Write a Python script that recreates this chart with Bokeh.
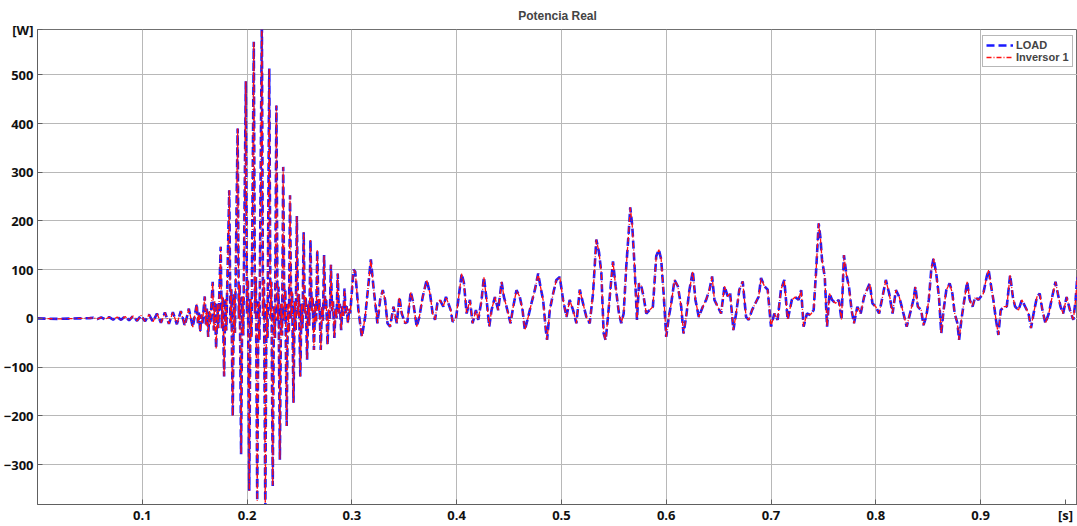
from bokeh.plotting import figure
from bokeh.models import FixedTicker, Range1d
from bokeh.embed import file_html
from bokeh.resources import INLINE

# ---- data (time [s], power [W]) ----
t_ramp = [0.0, 0.01, 0.02, 0.03, 0.04, 0.05,
          0.0532, 0.0570, 0.0608, 0.0646, 0.0684, 0.0722, 0.0760, 0.0798, 0.0836, 0.0874,
          0.0912, 0.0950, 0.0988, 0.1026, 0.1064, 0.1102, 0.1140, 0.1178, 0.1216, 0.1254,
          0.1292, 0.1330, 0.1368, 0.1406, 0.1444, 0.1482]
p_ramp = [0, -0.5, -1, -0.5, 0, 0.5,
          1.5, -1.5, 2, -2, 2.5, -2.5, 3, -3, 4, -4,
          5, -5, 6, -6, 8, -7, 10, -9, 12, -11,
          13, -12, 15, -15, 20, -18]

t_burst = [
    0.1520, 0.1531, 0.1540, 0.1553, 0.1564, 0.1574,
    0.1596, 0.1607, 0.1616, 0.1629, 0.1640, 0.1650,
    0.1672, 0.1683, 0.1692, 0.1705, 0.1716, 0.1726,
    0.1748, 0.1759, 0.1768, 0.1781, 0.1792, 0.1802,
    0.1830, 0.1841, 0.1850, 0.1863, 0.1874, 0.1884,
    0.1910, 0.1921, 0.1930, 0.1943, 0.1954, 0.1964,
    0.1988, 0.1999, 0.2008, 0.2021, 0.2032, 0.2042,
    0.2064, 0.2075, 0.2084, 0.2097, 0.2108, 0.2118,
    0.2141, 0.2152, 0.2161, 0.2174, 0.2185, 0.2195,
    0.2212, 0.2223, 0.2232, 0.2245, 0.2256, 0.2266,
    0.2280, 0.2291, 0.2300, 0.2313, 0.2324, 0.2334,
    0.2345, 0.2356, 0.2365, 0.2378, 0.2389, 0.2399,
    0.2410, 0.2421, 0.2430, 0.2443, 0.2454, 0.2464,
    0.2475, 0.2486, 0.2495, 0.2508, 0.2519, 0.2529,
    0.2540, 0.2551, 0.2560, 0.2573, 0.2584, 0.2594,
    0.2605, 0.2616, 0.2625, 0.2638, 0.2649, 0.2659,
    0.2670, 0.2681, 0.2690, 0.2703, 0.2714, 0.2724,
    0.2735, 0.2746, 0.2755, 0.2768, 0.2779, 0.2789,
    0.2800, 0.2811, 0.2820, 0.2833, 0.2844, 0.2854,
    0.2865, 0.2876, 0.2885, 0.2898, 0.2909, 0.2919,
    0.2930, 0.2941, 0.2950, 0.2963, 0.2974, 0.2984]
p_burst = [
    30, -10, 12, -28, 8, -10,
    45, -15, 20, -38, 15, -12,
    75, -25, 35, -62, 30, -20,
    147, -20, 45, -119, 40, -25,
    263, -10, 60, -201, 50, -30,
    390, 0, 70, -279, 45, -35,
    487, 10, 80, -354, 40, -40,
    568, 10, 85, -375, 35, -45,
    615, 5, 80, -400, 30, -40,
    513, 0, 75, -344, 25, -40,
    437, -5, 65, -290, 30, -35,
    311, -5, 60, -221, 30, -30,
    253, 0, 55, -173, 35, -25,
    210, 5, 50, -119, 30, -20,
    177, 10, 45, -85, 30, -15,
    161, 15, 45, -65, 30, -10,
    140, 15, 40, -65, 25, -5,
    130, 20, 40, -55, 20, -5,
    110, 15, 35, -40, 20, 0,
    92, 10, 30, -24, 25, 5,
    61, 10, 25, -10, 20, 10]

t_tail1 = [0.3016, 0.3032, 0.3063, 0.3095, 0.3127, 0.3159, 0.3181, 0.3206, 0.3244, 0.3270,
           0.3295, 0.3317, 0.3340, 0.3365, 0.3397, 0.3429, 0.3454, 0.3476, 0.3508, 0.3530,
           0.3562, 0.3587, 0.3619, 0.3644, 0.3676, 0.3714, 0.3746, 0.3771, 0.3794, 0.3816,
           0.3841, 0.3873, 0.3898, 0.3921, 0.3943, 0.3962, 0.3994, 0.4016, 0.4048, 0.4070,
           0.4095, 0.4127, 0.4152, 0.4184, 0.4206, 0.4238, 0.4260, 0.4286, 0.4311, 0.4333,
           0.4365, 0.4397, 0.4429, 0.4451, 0.4476, 0.4514, 0.4540, 0.4571, 0.4603, 0.4629,
           0.4651, 0.4683, 0.4714, 0.4746, 0.4778, 0.4800, 0.4825, 0.4851, 0.4863, 0.4889,
           0.4921, 0.4952, 0.4984]
p_tail1 = [100, 96, 17, -38, 3, 72, 121, 65, -10, 38,
           58, 38, -10, -17, 24, -10, 44, 10, -10, -7,
           55, 31, -17, 3, 44, 79, 51, 10, -3, 31,
           38, 24, 44, 31, 17, -7, 0, 38, 92, 72,
           10, 38, -10, 17, -3, 38, 85, 38, -17, 17,
           44, 17, 75, 44, 24, -10, 24, 58, 44, 17,
           -24, 3, 31, 58, 92, 65, 38, -24, -44, 17,
           51, 79, 85]

t_tail2 = [0.5016, 0.5048, 0.5079, 0.5111, 0.5143, 0.5175, 0.5206, 0.5238, 0.5270, 0.5302,
           0.5333, 0.5359, 0.5381, 0.5403, 0.5422, 0.5444, 0.5467, 0.5492, 0.5517, 0.5549,
           0.5571, 0.5594, 0.5619, 0.5644, 0.5657, 0.5676, 0.5698, 0.5721, 0.5740, 0.5762,
           0.5784, 0.5810, 0.5841, 0.5873, 0.5905, 0.5930, 0.5952, 0.5975, 0.6000, 0.6025,
           0.6048, 0.6079, 0.6111, 0.6143, 0.6165, 0.6190, 0.6222, 0.6254, 0.6279, 0.6311,
           0.6349, 0.6381, 0.6413, 0.6438, 0.6460, 0.6492, 0.6524, 0.6556, 0.6587, 0.6610,
           0.6641, 0.6667, 0.6698, 0.6730, 0.6762, 0.6787, 0.6819, 0.6851, 0.6883, 0.6905,
           0.6937, 0.6968, 0.7000, 0.7032, 0.7063, 0.7095, 0.7127, 0.7159]
p_tail2 = [38, 3, 38, 17, -10, 59, 31, 3, -10, 52,
           162, 135, 93, -31, -45, 3, 59, 117, 66, 10,
           -10, 10, 107, 183, 228, 190, 107, -3, 72, 66,
           45, 10, 17, 24, 128, 141, 121, 52, -38, 3,
           31, 79, 66, 24, -31, 3, 59, 97, 38, 3,
           24, 38, 59, 86, 38, 24, 10, 66, 45, 52,
           -24, 10, 59, 76, 3, -3, 17, 31, 45, 83,
           66, 59, -17, 10, -3, 59, 79, -3]

t_tail3 = [0.7199, 0.7231, 0.7263, 0.7288, 0.7311, 0.7343, 0.7375, 0.7407, 0.7429, 0.7455,
           0.7471, 0.7487, 0.7513, 0.7535, 0.7558, 0.7583, 0.7615, 0.7647, 0.7673, 0.7696,
           0.7718, 0.7744, 0.7769, 0.7792, 0.7824, 0.7856, 0.7888, 0.7920, 0.7942, 0.7968,
           0.8000, 0.8032, 0.8064, 0.8096, 0.8128, 0.8160, 0.8192, 0.8224, 0.8256, 0.8295,
           0.8327, 0.8359, 0.8378, 0.8401, 0.8433, 0.8455, 0.8481, 0.8506, 0.8529, 0.8551,
           0.8577, 0.8603, 0.8625, 0.8647, 0.8673, 0.8705, 0.8731, 0.8753, 0.8779, 0.8795,
           0.8817, 0.8840, 0.8872, 0.8897, 0.8923, 0.8949, 0.8978, 0.9000, 0.9026, 0.9058,
           0.9077, 0.9096, 0.9122, 0.9147, 0.9170, 0.9192, 0.9224, 0.9250, 0.9282, 0.9308,
           0.9330, 0.9362, 0.9394, 0.9426, 0.9458, 0.9481, 0.9506, 0.9538, 0.9564, 0.9590,
           0.9619, 0.9651, 0.9683, 0.9715, 0.9737, 0.9763, 0.9788, 0.9821, 0.9853, 0.9885,
           0.9907, 0.9923, 0.9950]
p_tail3 = [38, 44, 38, 58, -17, 10, 7, 17, 92, 195,
           167, 120, 85, -17, 51, 38, 31, 38, -3, 130,
           92, 65, 17, -10, 24, 10, 44, 61, 72, 31,
           24, 10, 44, 79, 51, 10, 58, 44, 17, -17,
           10, 38, 65, 24, 17, -14, 3, 38, 99, 123,
           92, 44, -31, 17, 58, 72, 51, 10, -10, -44,
           -3, 31, 75, 38, 24, 44, 38, 44, 51, 85,
           99, 72, 38, -3, -34, 17, 24, 24, 89, 44,
           24, 17, 38, 24, 10, -20, 10, 44, 51, 17,
           -10, 10, 44, 75, 51, 24, 10, 44, 17, -3,
           38, 85, 60]

x_ticks = [0.1, 0.2, 0.3, 0.4, 0.5, 0.6, 0.7, 0.8, 0.9]
y_ticks = [-300, -200, -100, 0, 100, 200, 300, 400, 500]
x_unit_pos, x_unit_label = 0.981, "[s]"
y_unit_pos, y_unit_label = 592.5, "[W]"

t = t_ramp + t_burst + t_tail1 + t_tail2 + t_tail3
p_load = p_ramp + p_burst + p_tail1 + p_tail2 + p_tail3
p_inv = list(p_load)
n = min(len(t), len(p_load))
t, p_load, p_inv = t[:n], p_load[:n], p_inv[:n]

TICK_FONT = "Open Sans"

p = figure(width=1077, height=526, output_backend="svg", toolbar_location=None,
           x_range=Range1d(0, 0.9925), y_range=Range1d(-382, 593),
           min_border_left=37, min_border_right=0, min_border_top=29, min_border_bottom=18)

p.title.text = "Potencia Real"
p.title.align = "center"
p.title.text_font = "Liberation Sans"
p.title.text_font_size = "12px"
p.title.text_font_style = "bold"
p.title.standoff = 11
p.title.offset = 0
p.title.vertical_align = "middle"

p.background_fill_color = "white"
p.border_fill_color = "white"
p.outline_line_color = "#707070"

for ax in (p.xaxis[0], p.yaxis[0]):
    ax.major_label_text_font = TICK_FONT
    ax.major_label_text_font_style = "bold"
    ax.major_label_text_font_size = "13px"
    ax.major_label_text_color = "#111111"
    ax.major_tick_in = 5
    ax.major_tick_out = 0
    ax.minor_tick_line_color = None
    ax.axis_line_color = "#606060"
    ax.major_tick_line_color = "#606060"
    ax.major_label_standoff = 4

p.xaxis.ticker = FixedTicker(ticks=x_ticks + [x_unit_pos])
p.xaxis.major_label_overrides = {x_unit_pos: x_unit_label}
p.yaxis.ticker = FixedTicker(ticks=y_ticks + [y_unit_pos])
p.yaxis.major_label_overrides = {y_unit_pos: y_unit_label}
p.xaxis.major_label_standoff = 1

p.xgrid.ticker = FixedTicker(ticks=x_ticks)
p.ygrid.ticker = FixedTicker(ticks=y_ticks)
p.grid.grid_line_color = "#b8b8b8"
p.grid.grid_line_width = 1

p.line(t, p_load, line_color="#1a1aff", line_width=2.6, line_dash="8 4", legend_label="LOAD")
p.line(t, p_inv, line_color="#ff1010", line_width=1.3, line_dash="5 2 1 2", legend_label="Inversor 1")

lg = p.legend[0]
lg.location = (945, 437)
lg.label_text_font = "Liberation Sans"
lg.label_text_font_style = "bold"
lg.label_text_font_size = "11px"
lg.label_height = 12
lg.glyph_height = 12
lg.glyph_width = 27
lg.label_standoff = 3
lg.spacing = 0
lg.padding = 3
lg.margin = 0
lg.border_line_color = "#707070"
lg.border_line_width = 1
lg.background_fill_alpha = 1.0

open("out.html", "w").write(file_html(p, INLINE))
